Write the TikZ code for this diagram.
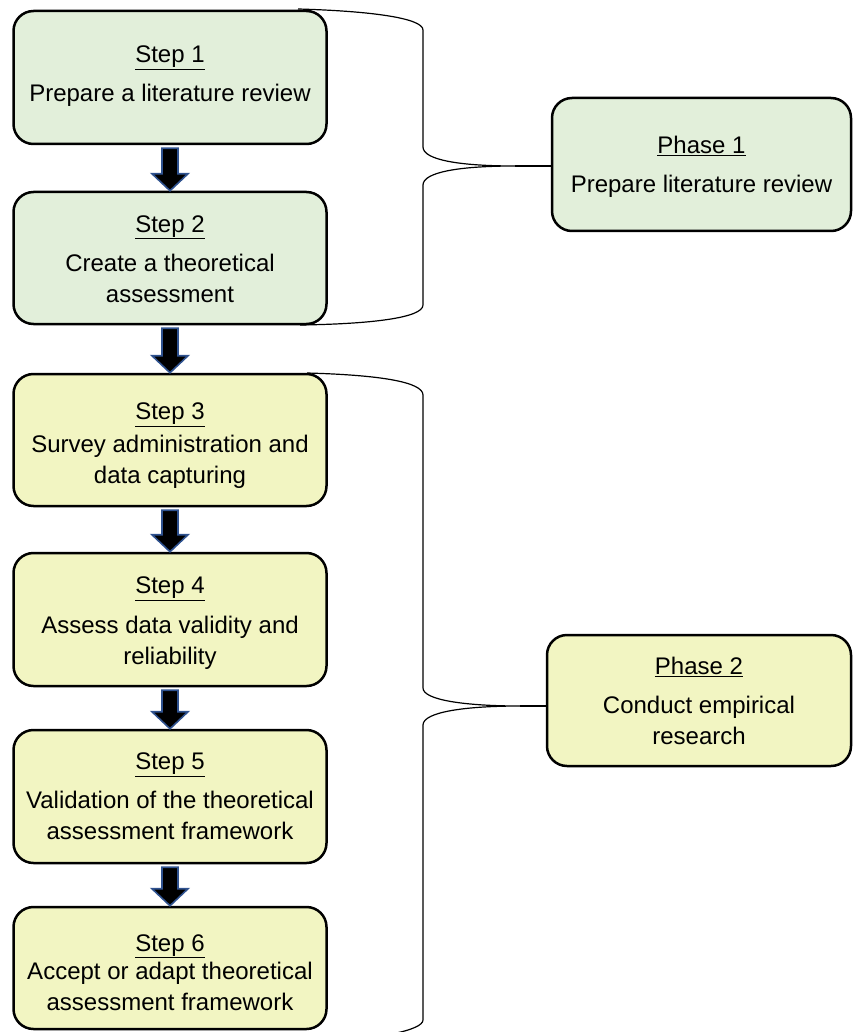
\documentclass[tikz,border=0pt]{standalone}
\usepackage{fontspec}
\setmainfont{Liberation Sans}
\usetikzlibrary{calc}

\definecolor{phaseone}{HTML}{E2EFDA}
\definecolor{phasetwo}{HTML}{F2F5C2}
\definecolor{arrowedge}{HTML}{2F528F}

% heading (underlined), gap, body lines
\newcommand\boxtext[3]{\underline{#1}\\[#2]#3}

% block arrow from the bottom of one box to the top of the next
\newcommand\flowarrow[2]{%
  \path[flowarrow] let \p1=(#1.south), \p2=(#2.north) in
    ({\x1-8pt},{\y1-3pt}) -- ({\x1+8pt},{\y1-3pt}) -- ({\x1+8pt},{\y2+17pt})
    -- ({\x1+18pt},{\y2+17pt}) -- (\x1,\y2) -- ({\x1-18pt},{\y2+17pt})
    -- ({\x1-8pt},{\y2+17pt}) -- cycle;}

\tikzset{
  card/.style={draw=black, line width=2.5pt, rounded corners=20pt, inner sep=0pt},
  stepcard/.style={card, minimum width=313pt},
  greencard/.style={fill=phaseone},
  yellowcard/.style={fill=phasetwo},
  cardtext/.style={align=center, inner sep=0pt,
    font=\fontsize{24}{31}\selectfont},
  flowarrow/.style={fill=black, draw=arrowedge, line width=1.6pt, line join=miter},
  bracket/.style={draw=black, line width=1.2pt}
}

\begin{document}
\begin{tikzpicture}[x=1pt, y=-1pt]
\useasboundingbox (0,0) rectangle (854,1032);
\clip (0,0) rectangle (854,1032);

% curly brackets grouping the steps into phases
\coordinate (tip1) at (515,166);
\coordinate (tip2) at (520,706);
\path[bracket] (298,9) .. controls (370,11) and (423,18) .. (423,30)
  -- (423,147) .. controls (423,160) and (460,166) .. (tip1)
  .. controls (460,166) and (423,172) .. (423,185)
  -- (423,305) .. controls (423,318) and (370,324) .. (300,325);
\path[bracket] (307,373) .. controls (380,375) and (423,382) .. (423,395)
  -- (423,688) .. controls (423,700) and (465,706) .. (tip2)
  .. controls (465,706) and (423,712) .. (423,725)
  -- (423,1020) .. controls (423,1030) and (380,1040) .. (300,1042);

% step boxes
\node[stepcard, greencard,  minimum height=133pt] (s1) at (170,77.5) {};
\node[stepcard, greencard,  minimum height=132pt] (s2) at (170,258) {};
\node[stepcard, yellowcard, minimum height=132pt] (s3) at (170,440) {};
\node[stepcard, yellowcard, minimum height=133pt] (s4) at (170,619.5) {};
\node[stepcard, yellowcard, minimum height=133pt] (s5) at (170,796.5) {};
\node[stepcard, yellowcard, minimum height=122pt] (s6) at (170,968) {};

% phase boxes
\node[card, greencard,  minimum width=299pt, minimum height=133pt] (p1) at (701.5,164.5) {};
\node[card, yellowcard, minimum width=304pt, minimum height=131pt] (p2) at (699,700.5) {};

% box texts
\node[cardtext] (s1t) at (170,76.5) {\boxtext{Step 1}{8pt}{Prepare a literature review}};
\node[cardtext] (s2t) at (170,259) {\boxtext{Step 2}{8pt}{Create a theoretical\\assessment}};
\node[cardtext] (s3t) at (170,446) {\boxtext{Step 3}{2pt}{Survey administration and\\data capturing}};
\node[cardtext] (s4t) at (170,623.5) {\boxtext{Step 4}{9pt}{Assess data validity and\\reliability}};
\node[cardtext] (s5t) at (170,796.5) {\boxtext{Step 5}{8pt}{Validation of the theoretical\\assessment framework}};
\node[cardtext] (s6t) at (170,972.5) {\boxtext{Step 6}{-3pt}{Accept or adapt theoretical\\assessment framework}};
\node[cardtext] (p1t) at (701.5,167) {\boxtext{Phase 1}{8pt}{Prepare literature review}};
\node[cardtext] (p2t) at (699,700.5) {\boxtext{Phase 2}{8pt}{Conduct empirical\\research}};

% bracket tips to the phase boxes
\draw[bracket] (tip1) -- (tip1 -| p1.west);
\draw[bracket] (tip2) -- (tip2 -| p2.west);

% flow between steps
\flowarrow{s1}{s2}
\flowarrow{s2}{s3}
\flowarrow{s3}{s4}
\flowarrow{s4}{s5}
\flowarrow{s5}{s6}
\end{tikzpicture}
\end{document}
